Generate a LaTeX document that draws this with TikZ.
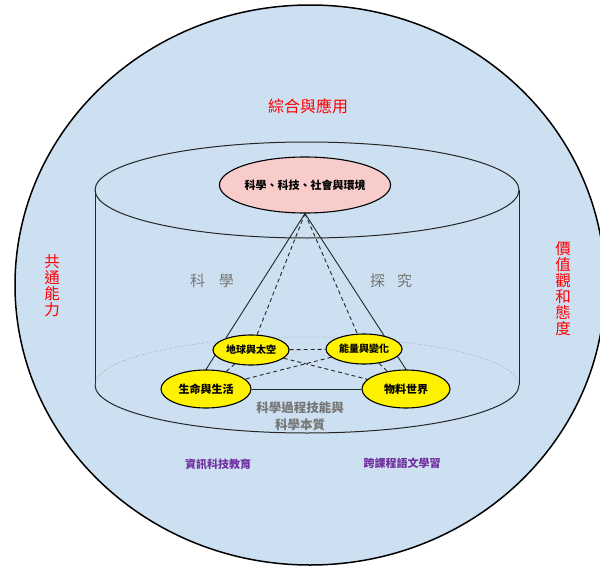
\documentclass[tikz,border=0pt]{standalone}
\usepackage{fontspec}
\setmainfont{Noto Sans CJK TC}
\usetikzlibrary{shapes.geometric,backgrounds}
\definecolor{bgblue}{RGB}{204,224,241}
\definecolor{pinkfill}{RGB}{249,204,204}
\definecolor{txtgray}{RGB}{118,118,118}
\definecolor{purp}{RGB}{112,48,160}
\begin{document}
\begin{tikzpicture}[x=1pt,y=-1pt,
  topic/.style={ellipse,draw=black,line width=1.1pt,fill=yellow,inner sep=0pt,font=\fontsize{10}{12}\selectfont\bfseries},
  solidedge/.style={draw=black!85,line width=0.9pt},
  dashededge/.style={draw=black!85,line width=0.9pt,dash pattern=on 4pt off 3pt},
  redlbl/.style={text=red,font=\fontsize{16}{17}\selectfont},
  vertlbl/.style={text=red,align=center,font=\fontsize{15.5}{16}\selectfont}]
\useasboundingbox (0,0) rectangle (600,570);
% nodes
\node[ellipse,draw=black,line width=1.1pt,fill=pinkfill,minimum width=156pt,minimum height=56pt,inner sep=0pt,font=\fontsize{11}{13}\selectfont\bfseries] (society) at (305,185) {科學、科技、社會與環境};
\node[topic,minimum width=76pt,minimum height=30pt] (earth) at (251,350) {地球與太空};
\node[topic,minimum width=76pt,minimum height=30pt] (energy) at (364,349) {能量與變化};
\node[topic,minimum width=90pt,minimum height=38pt,font=\fontsize{11}{13}\selectfont\bfseries] (life) at (206,389) {生命與生活};
\node[topic,minimum width=88pt,minimum height=38pt,font=\fontsize{11}{13}\selectfont\bfseries] (matter) at (406,389) {物料世界};
\node[redlbl] (apply) at (308,106) {綜合與應用};
\node[vertlbl] (common) at (52,286) {共\\通\\能\\力};
\node[vertlbl] (values) at (563,289) {價\\值\\觀\\和\\態\\度};
\node[text=txtgray,font=\fontsize{15}{16}\selectfont] (sci) at (212,281) {科\hspace{14pt}學};
\node[text=txtgray,font=\fontsize{15}{16}\selectfont] (inq) at (391,281) {探\hspace{12pt}究};
\node[text=txtgray,align=center,font=\fontsize{12.5}{17}\selectfont\bfseries] (process) at (300,416) {科學過程技能與\\科學本質};
\node[text=purp,font=\fontsize{11}{13}\selectfont\bfseries] (ict) at (218,464) {資訊科技教育};
\node[text=purp,font=\fontsize{11}{13}\selectfont\bfseries] (lang) at (402,463) {跨課程語文學習};
\begin{scope}[on background layer]
  \filldraw[fill=bgblue,draw=black,line width=1.5pt] (310,285) ellipse[x radius=295pt,y radius=280pt];
  % cylinder
  \draw[black!85,line width=1pt] (307,190) ellipse[x radius=212pt,y radius=48pt];
  \draw[black!85,line width=1pt] (95,190) -- (95,385);
  \draw[black!85,line width=1pt] (519,190) -- (519,385);
  \draw[black!85,line width=1pt] (95,385) arc[start angle=180,end angle=360,x radius=212pt,y radius=48pt];
  \draw[black!55,line width=0.5pt,dotted] (95,385) arc[start angle=180,end angle=0,x radius=212pt,y radius=48pt];
  % connectors
  \draw[dashededge] (society.south) -- (earth);
  \draw[dashededge] (society.south) -- (energy);
  \draw[dashededge] (earth) -- (energy);
  \draw[dashededge] (earth) -- (matter);
  \draw[dashededge] (energy) -- (life);
  \draw[dashededge] (earth) -- (life);
  \draw[dashededge] (energy) -- (matter);
  \draw[solidedge] (society.south) -- (life.north);
  \draw[solidedge] (society.south) -- (matter.north);
  \draw[solidedge] (life) -- (matter);
\end{scope}
\end{tikzpicture}
\end{document}
